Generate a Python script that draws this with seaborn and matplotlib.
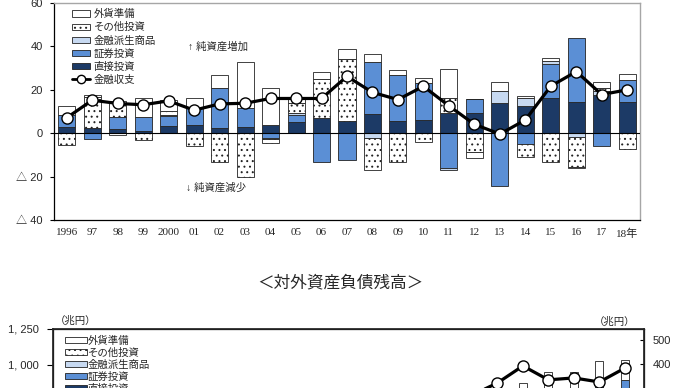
import numpy as np
import pandas as pd
import matplotlib
matplotlib.use('Agg')
import matplotlib.pyplot as plt
import seaborn as sns
from matplotlib.lines import Line2D
from matplotlib.patches import Patch

# --- flow chart (trillion yen) ---
years = ['1996', '97', '98', '99', '2000', '01', '02', '03', '04', '05', '06', '07',
         '08', '09', '10', '11', '12', '13', '14', '15', '16', '17', '18年']
direct = [3.0, 2.5, 1.9, 1.0, 3.4, 3.8, 2.2, 2.7, 3.8, 5.3, 6.9, 5.8,
          8.7, 5.6, 6.1, 9.1, 9.2, 14.1, 12.5, 16.1, 14.2, 17.5, 14.5]
securities = [5.4, -2.6, 5.7, 6.3, 4.5, 7.7, 18.5, 8.8, -2.3, 3.1, -13.1, -12.4,
              24.3, 21.2, 16.9, -16.2, 6.4, -24.2, -5.0, 15.8, 29.8, -6.0, 10.0]
derivatives = [0, 0, 0, 0, 0.5, 0, 0, 0, -0.3, 1.0, 0, 0,
               -2.4, 0, 0, -0.9, 0, 5.3, 3.6, 1.5, -1.9, 2.0, 0]
other = [-5.6, 14.3, 7.3, -3.3, 1.8, -5.9, -13.1, -20.0, -2.1, 4.3, 17.9, 28.2,
         -14.6, -13.1, -3.9, 7.0, -8.5, 0, -6.1, -13.4, -13.5, 1.3, -7.4]
reserves = [4.2, 1.0, -1.0, 8.8, 5.3, 4.6, 6.1, 21.5, 16.9, 1.9, 3.5, 4.7,
            3.4, 2.3, 2.6, 13.3, -3.1, 4.1, 1.0, 1.1, -0.6, 2.7, 2.6]
balance = [7.1, 15.2, 13.7, 13.1, 14.9, 10.6, 13.5, 13.8, 16.0, 16.0, 16.0, 26.2,
           18.8, 15.5, 21.6, 12.6, 4.1, -0.4, 6.1, 21.7, 28.4, 17.8, 20.0]

# --- stock chart (only its top is visible in the picture) ---
stock_years = years
stock_assets = [302, 355, 338, 308, 341, 380, 366, 385, 434, 506, 558, 610,
                519, 554, 563, 582, 661, 797, 875, 951, 951, 1028, 1035]
stock_reserves = [27, 28, 27, 31, 38, 49, 56, 82, 85, 101, 107, 111,
                  92, 90, 88, 100, 109, 133, 151, 150, 145, 140, 140]
net_assets = [103, 124, 133, 84, 133, 179, 175, 172, 186, 181, 215, 250,
              225, 240, 250, 255, 270, 321, 392, 334, 342, 325, 383]

labels = ['外貨準備', 'その他投資', '金融派生商品', '証券投資', '直接投資']
colors = {'直接投資': '#1c3a66', '証券投資': '#5b8fd5', '金融派生商品': '#c7d9f1',
          'その他投資': 'white', '外貨準備': 'white'}
hatches = {'その他投資': '...'}

sns.set_theme(style='white')
plt.rcParams['font.family'] = ['Liberation Sans', 'Noto Sans CJK JP']
plt.rcParams['hatch.linewidth'] = 0.7
plt.rcParams['hatch.color'] = '#333333'

fig = plt.figure(figsize=(6.9, 3.88), dpi=100)
ax = fig.add_axes([54 / 690, 1 - 220 / 388, 586 / 690, 217 / 388])

df = pd.DataFrame({'year': years, '直接投資': direct, '証券投資': securities,
                   '金融派生商品': derivatives, 'その他投資': other, '外貨準備': reserves,
                   '金融収支': balance})
x = np.arange(len(years))
pos = np.zeros(len(years))
neg = np.zeros(len(years))
for comp in ['直接投資', '証券投資', '金融派生商品', 'その他投資', '外貨準備']:
    v = df[comp].to_numpy(dtype=float)
    base = np.where(v >= 0, pos, neg)
    ax.bar(x, v, bottom=base, width=0.67, color=colors[comp],
           edgecolor='#222222', linewidth=0.6, hatch=hatches.get(comp), zorder=2)
    pos = pos + np.where(v >= 0, v, 0)
    neg = neg + np.where(v < 0, v, 0)

ax.axhline(0, color='black', linewidth=0.8, zorder=3)
sns.lineplot(x=x, y=df['金融収支'], ax=ax, color='black', linewidth=2.3,
             marker='o', markersize=8, markerfacecolor='white',
             markeredgecolor='black', markeredgewidth=1.0, zorder=4)

ax.set_xlim(-0.5, len(years) - 0.5)
ax.set_ylim(-40, 60)
ax.set_yticks([-40, -20, 0, 20, 40, 60])
ax.set_yticklabels(['△ 40', '△ 20', '0', '20', '40', '60'], fontsize=8)
ax.set_xticks(x)
ax.set_xticklabels(years, fontsize=8, family=['Liberation Serif', 'Noto Sans CJK JP'])
ax.set_xticks(np.arange(len(years) - 1) + 0.5, minor=True)
ax.tick_params(axis='x', which='major', length=0, pad=6)
ax.tick_params(axis='x', which='minor', direction='in', length=4, width=0.8, color='black')
ax.tick_params(axis='y', direction='out', length=3, width=0.8, color='black', pad=5, left=True)
ax.set_xlabel('')
ax.set_ylabel('')
for side in ['left', 'bottom']:
    ax.spines[side].set_color('black')
    ax.spines[side].set_linewidth(0.9)
for side in ['top', 'right']:
    ax.spines[side].set_color('#a6a6a6')
    ax.spines[side].set_linewidth(1.0)

handles = [Patch(facecolor=colors[l], edgecolor='#222222', linewidth=0.6,
                 hatch=hatches.get(l)) for l in labels]
handles.append(Line2D([], [], color='black', linewidth=2, marker='o', markersize=6,
                      markerfacecolor='white', markeredgecolor='black'))
ax.legend(handles, labels + ['金融収支'], loc='upper left', bbox_to_anchor=(0.031, 0.972),
          frameon=False, fontsize=7.5, handlelength=1.75, handleheight=0.55,
          labelspacing=0.29, handletextpad=0.3, borderpad=0, borderaxespad=0)

ax.text(4.75, 39.7, '↑ 純資産増加', fontsize=7.5, va='center', ha='left')
ax.text(4.7, -25.3, '↓ 純資産減少', fontsize=7.5, va='center', ha='left')

# title of the second chart
fig.text(340 / 690, 1 - 283 / 388, '＜対外資産負債残高＞', fontsize=12,
         ha='center', va='center')

# second chart: only its top part falls inside the picture
ax2 = fig.add_axes([53 / 690, 1 - 511 / 388, 591 / 690, 182 / 388])
sdf = pd.DataFrame({'year': stock_years, 'assets': stock_assets,
                    'reserves': stock_reserves, 'net': net_assets})
x2 = np.arange(len(stock_years))
lower = sdf['assets'] - sdf['reserves']
ax2.bar(x2, lower, width=0.32, color='#5b8fd5', edgecolor='#222222', linewidth=0.6)
ax2.bar(x2, sdf['reserves'], bottom=lower, width=0.32, color='white',
        edgecolor='#222222', linewidth=0.6)
ax2.set_xlim(-0.43, 22.75)
ax2.set_ylim(1250 - 182 * 250 / 36, 1250)
ax2.set_yticks([1000, 1250])
ax2.set_yticklabels(['1, 000', '1, 250'], fontsize=8)
ax2.tick_params(axis='y', direction='out', length=4, width=0.8, color='black', pad=6.5, left=True)
ax2.set_xticks([])
for side in ax2.spines:
    ax2.spines[side].set_color('black')
    ax2.spines[side].set_linewidth(0.9)

ax3 = ax2.twinx()
sns.lineplot(x=x2, y=sdf['net'], ax=ax3, color='black', linewidth=2.3,
             marker='o', markersize=8, markerfacecolor='white',
             markeredgecolor='black', markeredgewidth=1.0)
top_r = 500 + 11 / 24 * 100
ax3.set_ylim(top_r - 182 / 24 * 100, top_r)
ax3.set_yticks([400, 500])
ax3.set_yticklabels(['400', '500'], fontsize=8)
ax3.tick_params(axis='y', direction='in', length=3, width=0.8, color='black', pad=6, right=True)
ax3.set_ylabel('')
ax3.grid(False)

fig.text(55 / 690, 1 - 321 / 388, '（兆円）', fontsize=7.5, ha='left', va='center')
fig.text(594 / 690, 1 - 322 / 388, '（兆円）', fontsize=7.5, ha='left', va='center')

handles2 = [Patch(facecolor=colors[l], edgecolor='#222222', linewidth=0.6,
                  hatch=hatches.get(l)) for l in labels]
ax2.legend(handles2, labels, loc='upper left', bbox_to_anchor=(0.02, 0.965),
           frameon=False, fontsize=7.5, handlelength=2.1, handleheight=0.5,
           labelspacing=0.2, handletextpad=0.1, borderpad=0, borderaxespad=0)

fig.savefig('out.png', dpi=100)
